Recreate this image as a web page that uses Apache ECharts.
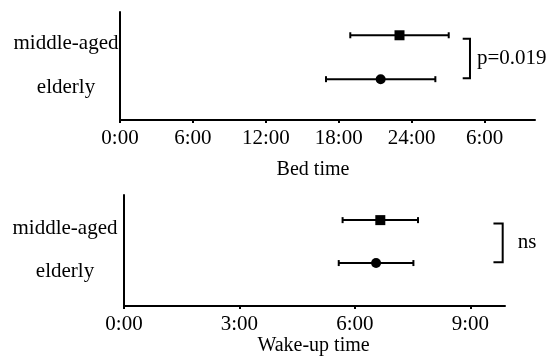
<!DOCTYPE html>
<html>
<head>
<meta charset="utf-8">
<script src="https://cdn.jsdelivr.net/npm/echarts@6/dist/echarts.min.js"></script>
<style>
  html, body { margin: 0; padding: 0; background: #fff; }
  #chart { width: 549px; height: 356px; }
</style>
</head>
<body>
<div id="chart"></div>
<script>
const FONT = "'Liberation Serif', 'Times New Roman', serif";

// groups, bottom to top (y = 1, 2)
const groups = ["elderly", "middle-aged"];
const groupSymbols = ["circle", "rect"];

// bed time, hours from 0:00 (24+ = after midnight)
const bedMean = [21.45, 23.0];
const bedSd = [4.5, 4.05];
const bedTickValues = [0, 6, 12, 18, 24, 30];
const bedTickLabels = ["0:00", "6:00", "12:00", "18:00", "24:00", "6:00"];
const bedBracketX = [28.2, 28.8];
const bedP = "p=0.019";

// wake-up time, hours
const wakeMean = [6.55, 6.66];
const wakeSd = [0.97, 0.98];
const wakeTickValues = [0, 3, 6, 9];
const wakeTickLabels = ["0:00", "3:00", "6:00", "9:00"];
const wakeBracketX = [9.6, 9.84];
const wakeP = "ns";

const bracketY = [1.02, 1.92];

function errorRows(mean, sd) {
    return mean.map((m, i) => [m, i + 1, m - sd[i], m + sd[i]]);
}

function markerRows(mean) {
    return mean.map((m, i) => ({value: [m, i + 1], symbol: groupSymbols[i]}));
}

function ln(x1, y1, x2, y2) {
    return {
        type: "line",
        shape: {x1, y1, x2, y2},
        style: {stroke: "#000", lineWidth: 2}
    };
}

function renderErrorBar(params, api) {
    const y = api.value(1);
    const a = api.coord([api.value(2), y]);
    const b = api.coord([api.value(3), y]);
    const cap = 3;
    return {
        type: "group",
        children: [
            ln(a[0], a[1], b[0], b[1]),
            ln(a[0], a[1] - cap, a[0], a[1] + cap),
            ln(b[0], b[1] - cap, b[0], b[1] + cap)
        ]
    };
}

function bracketRenderer(text, textGap) {
    return function (params, api) {
        const p0 = api.coord([api.value(0), api.value(2)]);
        const p1 = api.coord([api.value(1), api.value(2)]);
        const p2 = api.coord([api.value(1), api.value(3)]);
        const p3 = api.coord([api.value(0), api.value(3)]);
        return {
            type: "group",
            children: [
                {
                    type: "polyline",
                    shape: {points: [p3, p2, p1, p0]},
                    style: {stroke: "#000", lineWidth: 2, fill: null}
                },
                {
                    type: "text",
                    x: p1[0] + textGap,
                    y: (p1[1] + p2[1]) / 2,
                    style: {
                        text,
                        fill: "#000",
                        font: "21px " + FONT,
                        align: "left",
                        verticalAlign: "middle"
                    }
                }
            ]
        };
    };
}

function xAxisFor(gridIndex, max, ticks, labels, name, nameGap, namePad) {
    return {
        type: "value",
        gridIndex,
        min: 0,
        max,
        splitLine: {show: false},
        axisLine: {lineStyle: {color: "#000", width: 2}},
        axisTick: {show: true, length: 3, customValues: ticks, lineStyle: {color: "#000", width: 2}},
        axisLabel: {
            customValues: ticks,
            formatter: v => labels[ticks.indexOf(v)],
            color: "#000",
            fontFamily: FONT,
            fontSize: 21,
            lineHeight: 21,
            margin: 8
        },
        name,
        nameLocation: "middle",
        nameGap,
        nameMoveOverlap: false,
        nameTextStyle: {color: "#000", fontFamily: FONT, fontSize: 20, padding: namePad}
    };
}

function yAxisFor(gridIndex, min, max, margin) {
    return {
        type: "value",
        gridIndex,
        min,
        max,
        splitLine: {show: false},
        axisLine: {show: true, lineStyle: {color: "#000", width: 2}},
        axisTick: {show: false},
        axisLabel: {
            customValues: [1, 2],
            formatter: v => groups[v - 1],
            color: "#000",
            fontFamily: FONT,
            fontSize: 21,
            lineHeight: 16,
            align: "center",
            verticalAlign: "top",
            margin
        }
    };
}

const chart = echarts.init(document.getElementById("chart"), null, {renderer: "canvas"});

chart.setOption({
    animation: false,
    backgroundColor: "#fff",
    grid: [
        {left: 120, top: 12, width: 415, height: 108, outerBoundsMode: "none", containLabel: false},
        {left: 124, top: 195, width: 381, height: 111, outerBoundsMode: "none", containLabel: false}
    ],
    xAxis: [
        xAxisFor(0, 34.15, bedTickValues, bedTickLabels, "Bed time", 40, [0, 29, 0, 0]),
        xAxisFor(1, 9.9, wakeTickValues, wakeTickLabels, "Wake-up time", 30, [0, 2, 0, 0])
    ],
    yAxis: [
        yAxisFor(0, 0.07, 2.53, 54),
        yAxisFor(1, 0, 2.585, 59)
    ],
    series: [
        {
            type: "custom",
            xAxisIndex: 0, yAxisIndex: 0,
            renderItem: renderErrorBar,
            encode: {x: 0, y: 1},
            data: errorRows(bedMean, bedSd)
        },
        {
            type: "scatter",
            xAxisIndex: 0, yAxisIndex: 0,
            symbolSize: 10,
            itemStyle: {color: "#000", opacity: 1},
            data: markerRows(bedMean)
        },
        {
            type: "custom",
            xAxisIndex: 0, yAxisIndex: 0,
            renderItem: bracketRenderer(bedP, 7),
            data: [[bedBracketX[0], bedBracketX[1], bracketY[0], bracketY[1]]]
        },
        {
            type: "custom",
            xAxisIndex: 1, yAxisIndex: 1,
            renderItem: renderErrorBar,
            encode: {x: 0, y: 1},
            data: errorRows(wakeMean, wakeSd)
        },
        {
            type: "scatter",
            xAxisIndex: 1, yAxisIndex: 1,
            symbolSize: 10,
            itemStyle: {color: "#000", opacity: 1},
            data: markerRows(wakeMean)
        },
        {
            type: "custom",
            xAxisIndex: 1, yAxisIndex: 1,
            renderItem: bracketRenderer(wakeP, 15),
            data: [[wakeBracketX[0], wakeBracketX[1], bracketY[0], bracketY[1]]]
        }
    ]
});
</script>
</body>
</html>
